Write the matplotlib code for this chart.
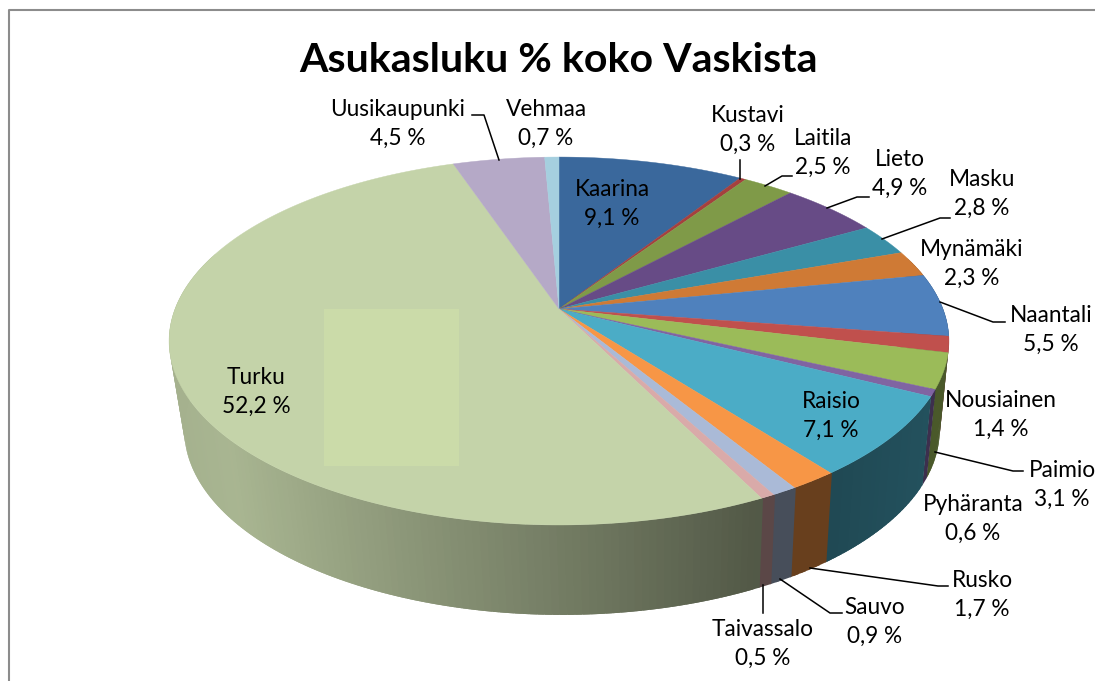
import numpy as np
import matplotlib
matplotlib.use("Agg")
import matplotlib.pyplot as plt

plt.rcParams['font.family'] = ['Lato', 'DejaVu Sans']

# -------------------------------------------------
# DATA
# -------------------------------------------------

KUNNAT = ["Kaarina", "Kustavi", "Laitila", "Lieto", "Masku", "Mynämäki", "Naantali",
          "Nousiainen", "Paimio", "Pyhäranta", "Raisio", "Rusko", "Sauvo",
          "Taivassalo", "Turku", "Uusikaupunki", "Vehmaa"]
OSUUDET = [9.1, 0.3, 2.5, 4.9, 2.8, 2.3, 5.5, 1.4, 3.1, 0.6, 7.1, 1.7, 0.9, 0.5, 52.2, 4.5, 0.7]

# -------------------------------------------------
# STYLE AND LAYOUT (pixels of the 1095x681 picture)
# -------------------------------------------------

VARIT = ["#3a689c", "#a5403e", "#7f9a48", "#674b86", "#3a8fa6", "#cf7a35", "#4f81bd",
         "#c0504d", "#9bbb59", "#8064a2", "#4bacc6", "#f79646", "#aabad7",
         "#d9aaa9", "#c4d3a9", "#b5a9c7", "#a5cfdf"]

LABEL_POS = [(612, 204), (748, 130), (823, 153), (900, 174), (982, 194), (972, 264), (1051, 330),
             (1001, 415), (1062, 485), (973, 519), (831, 416), (982, 595), (875, 622),
             (763, 644), (256, 392), (398, 124), (546, 124)]

LEADERS = [
    [(472, 115), (484, 115), (499, 160)],
    [(740, 160), (740, 179)],
    [(792, 176), (782, 176), (765, 186)],
    [(869, 197), (857, 197), (827, 208)],
    [(950, 218), (940, 218), (882, 239)],
    [(1005, 322), (993, 322), (940, 302)],
    [(1023, 471), (1013, 471), (935, 452)],
    [(948, 586), (938, 586), (810, 568)],
    [(842, 613), (830, 613), (780, 579)],
    [(763, 613), (763, 585)],
]

CX = 559           # pie centre x
KANSI_Y = 309      # top disc centre y
KANSI_A, KANSI_B = 178.4, 384
POHJA_X = 562
POHJA_Y = 397.6    # bottom disc centre y
POHJA_A, POHJA_B = 179.5, 372
K = 0.174          # perspective

# wall brightness as function of screen x
VALO_X = [170, 230, 400, 600, 760, 830, 950]
VALO_F = [0.84, 0.86, 0.72, 0.56, 0.42, 0.42, 0.48]


def rim(t, x0, y0, a, b):
    w = 1 + K * np.cos(t)
    return x0 + b * np.sin(t) / w, y0 - a * np.cos(t) / w


def kerro(vari, f):
    return tuple(c * f for c in matplotlib.colors.to_rgb(vari))


fig = plt.figure(figsize=(10.95, 6.81), dpi=100)
ax = fig.add_axes([0, 0, 1, 1])
ax.set_xlim(0, 1095)
ax.set_ylim(681, 0)
ax.axis("off")

# border of the chart area, only left and top are in the picture
ax.plot([9, 9, 1095], [681, 10, 10], color="#8c8c8c", lw=1.5, zorder=1)

rajat = np.cumsum([0] + OSUUDET) / np.sum(OSUUDET) * 2 * np.pi

# walls, each strip starts a bit under the previous one and runs under the next so no seams show
for i, vari in enumerate(VARIT):
    tt = np.linspace(rajat[i], rajat[i + 1], max(int((rajat[i + 1] - rajat[i]) * 60), 2))
    for j, (t0, t1) in enumerate(zip(tt[:-1], tt[1:])):
        if np.cos(t0) > 0.3:
            continue
        t2 = min(t1 + 0.012, rajat[i + 1])
        t3 = t0 - 0.004
        x0, y0 = rim(t3, CX, KANSI_Y, KANSI_A, KANSI_B)
        x1, y1 = rim(t2, CX, KANSI_Y, KANSI_A, KANSI_B)
        x2, y2 = rim(t2, POHJA_X, POHJA_Y, POHJA_A, POHJA_B)
        x3, y3 = rim(t3, POHJA_X, POHJA_Y, POHJA_A, POHJA_B)
        f = np.interp(x0, VALO_X, VALO_F)
        ax.fill([x0, x1, x2, x3], [y0, y1, y2, y3], color=kerro(vari, f), lw=0, zorder=2)

# top disc
for i, vari in enumerate(VARIT):
    tt = np.linspace(rajat[i], rajat[i + 1], max(int((rajat[i + 1] - rajat[i]) * 120), 2))
    xs, ys = rim(tt, CX, KANSI_Y, KANSI_A, KANSI_B)
    ax.fill(np.r_[CX, xs], np.r_[KANSI_Y, ys], color=vari, lw=0.3, zorder=3)

# pale square on top of Turku
ax.fill([324, 459, 459, 324], [309, 309, 466, 466], color="#cbdba9", lw=0, zorder=4)

for pts in LEADERS:
    ax.plot([p[0] for p in pts], [p[1] for p in pts], color="black", lw=1.1, zorder=5)

for nimi, osuus, (x, y) in zip(KUNNAT, OSUUDET, LABEL_POS):
    teksti = f"{nimi}\n{str(osuus).replace('.', ',')} %"
    ax.text(x, y, teksti, ha="center", va="center", fontsize=16.3, linespacing=1.42,
            color="black", zorder=6)

ax.text(558, 60, "Asukasluku % koko Vaskista", ha="center", va="center",
        fontsize=29.5, fontweight="bold", color="black", zorder=6)

fig.savefig("out.png", dpi=100)
